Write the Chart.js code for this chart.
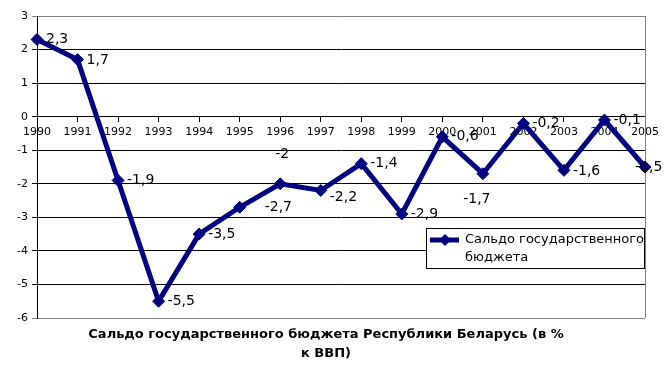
<!DOCTYPE html>
<html>
<head>
<meta charset="utf-8">
<script src="https://cdn.jsdelivr.net/npm/chart.js@4"></script>
<style>
  html, body { margin: 0; padding: 0; background: #fff; }
  #wrap { width: 666px; height: 378px; }
</style>
</head>
<body>
<div id="wrap"><canvas id="chart" width="666" height="378"></canvas></div>
<script>
// --- data ---
const years = ['1990', '1991', '1992', '1993', '1994', '1995', '1996', '1997',
               '1998', '1999', '2000', '2001', '2002', '2003', '2004', '2005'];
const balance = [2.3, 1.7, -1.9, -5.5, -3.5, -2.7, -2, -2.2, -1.4, -2.9, -0.6, -1.7, -0.2, -1.6, -0.1, -1.5];
const seriesName = ['Сальдо государственного', 'бюджета'];
const titleLines = ['Сальдо государственного бюджета Республики Беларусь (в %', 'к ВВП)'];

// label placement per point: [dx, dy, align]
const labelPlace = [
  [9, 0, 'left'], [9, 1, 'left'], [9, 0, 'left'], [9, 0, 'left'],
  [9, 0, 'left'], [25, 0, 'left'], [2, -29, 'center'], [9, 7, 'left'],
  [9, 0, 'left'], [9, 0, 'left'], [9, 0, 'left'], [-6, 26, 'center'],
  [9, 0, 'left'], [9, 1, 'left'], [9, 0, 'left'], [-10, 0, 'left']
];

const NAVY = '#000080';
const FONT = 'DejaVu Sans';

const fmt = v => String(v).replace('.', ',');

// --- plugins ---
const frame = {
  id: 'frame',
  beforeDatasetsDraw(chart) {
    const { ctx, chartArea: a } = chart;
    ctx.save();
    ctx.strokeStyle = '#808080';
    ctx.lineWidth = 1;
    ctx.beginPath();
    ctx.moveTo(a.right + 0.5, a.top);
    ctx.lineTo(a.right + 0.5, a.bottom);
    ctx.stroke();
    ctx.restore();
  }
};

const pointLabels = {
  id: 'pointLabels',
  afterDatasetsDraw(chart) {
    const { ctx } = chart;
    const meta = chart.getDatasetMeta(0);
    ctx.save();
    ctx.font = '14px "' + FONT + '"';
    ctx.fillStyle = '#000';
    ctx.textBaseline = 'middle';
    meta.data.forEach((pt, i) => {
      const [dx, dy, align] = labelPlace[i];
      ctx.textAlign = align;
      ctx.fillText(fmt(balance[i]), pt.x + dx, pt.y + dy);
    });
    ctx.restore();
  }
};

const legendBox = {
  id: 'legendBox',
  afterDraw(chart) {
    const { ctx } = chart;
    const x = 426, y = 228, w = 218, h = 40;
    ctx.save();
    ctx.fillStyle = '#fff';
    ctx.fillRect(x, y, w, h);
    ctx.strokeStyle = '#000';
    ctx.lineWidth = 1;
    ctx.strokeRect(x + 0.5, y + 0.5, w, h);
    // sample line with marker
    ctx.strokeStyle = NAVY;
    ctx.lineWidth = 5;
    ctx.beginPath();
    ctx.moveTo(x + 4, y + 12);
    ctx.lineTo(x + 33, y + 12);
    ctx.stroke();
    ctx.fillStyle = NAVY;
    ctx.beginPath();
    ctx.moveTo(x + 19, y + 6);
    ctx.lineTo(x + 25, y + 12);
    ctx.lineTo(x + 19, y + 18);
    ctx.lineTo(x + 13, y + 12);
    ctx.closePath();
    ctx.fill();
    ctx.fillStyle = '#000';
    ctx.font = '13px "' + FONT + '"';
    ctx.textAlign = 'left';
    ctx.textBaseline = 'middle';
    seriesName.forEach((t, i) => ctx.fillText(t, x + 39, y + 12 + i * 18));
    ctx.restore();
  }
};

const bottomTitle = {
  id: 'bottomTitle',
  afterDraw(chart) {
    const { ctx } = chart;
    ctx.save();
    ctx.fillStyle = '#000';
    ctx.font = 'bold 13px "' + FONT + '"';
    ctx.textAlign = 'center';
    ctx.textBaseline = 'middle';
    titleLines.forEach((t, i) => ctx.fillText(t, 326, 335 + i * 19));
    ctx.restore();
  }
};

// --- chart ---
new Chart(document.getElementById('chart').getContext('2d'), {
  type: 'line',
  data: {
    labels: years,
    datasets: [{
      label: seriesName.join(' '),
      data: balance,
      borderColor: NAVY,
      backgroundColor: NAVY,
      borderWidth: 5,
      pointStyle: 'rectRot',
      pointRadius: 6,
      pointBorderWidth: 1,
      tension: 0,
      fill: false
    }]
  },
  options: {
    responsive: false,
    animation: false,
    layout: { padding: { top: 16, right: 21, bottom: 60, left: 0 } },
    plugins: {
      legend: { display: false },
      title: { display: false },
      tooltip: { enabled: false }
    },
    scales: {
      x: {
        position: { y: 0 },
        offset: false,
        grid: { drawOnChartArea: false, drawTicks: true, tickLength: 5, color: '#000' },
        border: { display: true, color: '#000', width: 1 },
        ticks: { color: '#000', font: { family: FONT, size: 11 }, padding: 4, maxRotation: 0, autoSkip: false }
      },
      y: {
        min: -6,
        max: 3,
        afterFit(scale) { scale.width = 37; },
        grid: {
          color: ctx => (ctx.tick && (ctx.tick.value === 3 || ctx.tick.value === -6)) ? '#808080' : '#000',
          tickLength: 5
        },
        border: { display: true, color: '#000' },
        ticks: { stepSize: 1, color: '#000', font: { family: FONT, size: 11 }, padding: 4 }
      }
    }
  },
  plugins: [frame, pointLabels, legendBox, bottomTitle]
});
</script>
</body>
</html>
